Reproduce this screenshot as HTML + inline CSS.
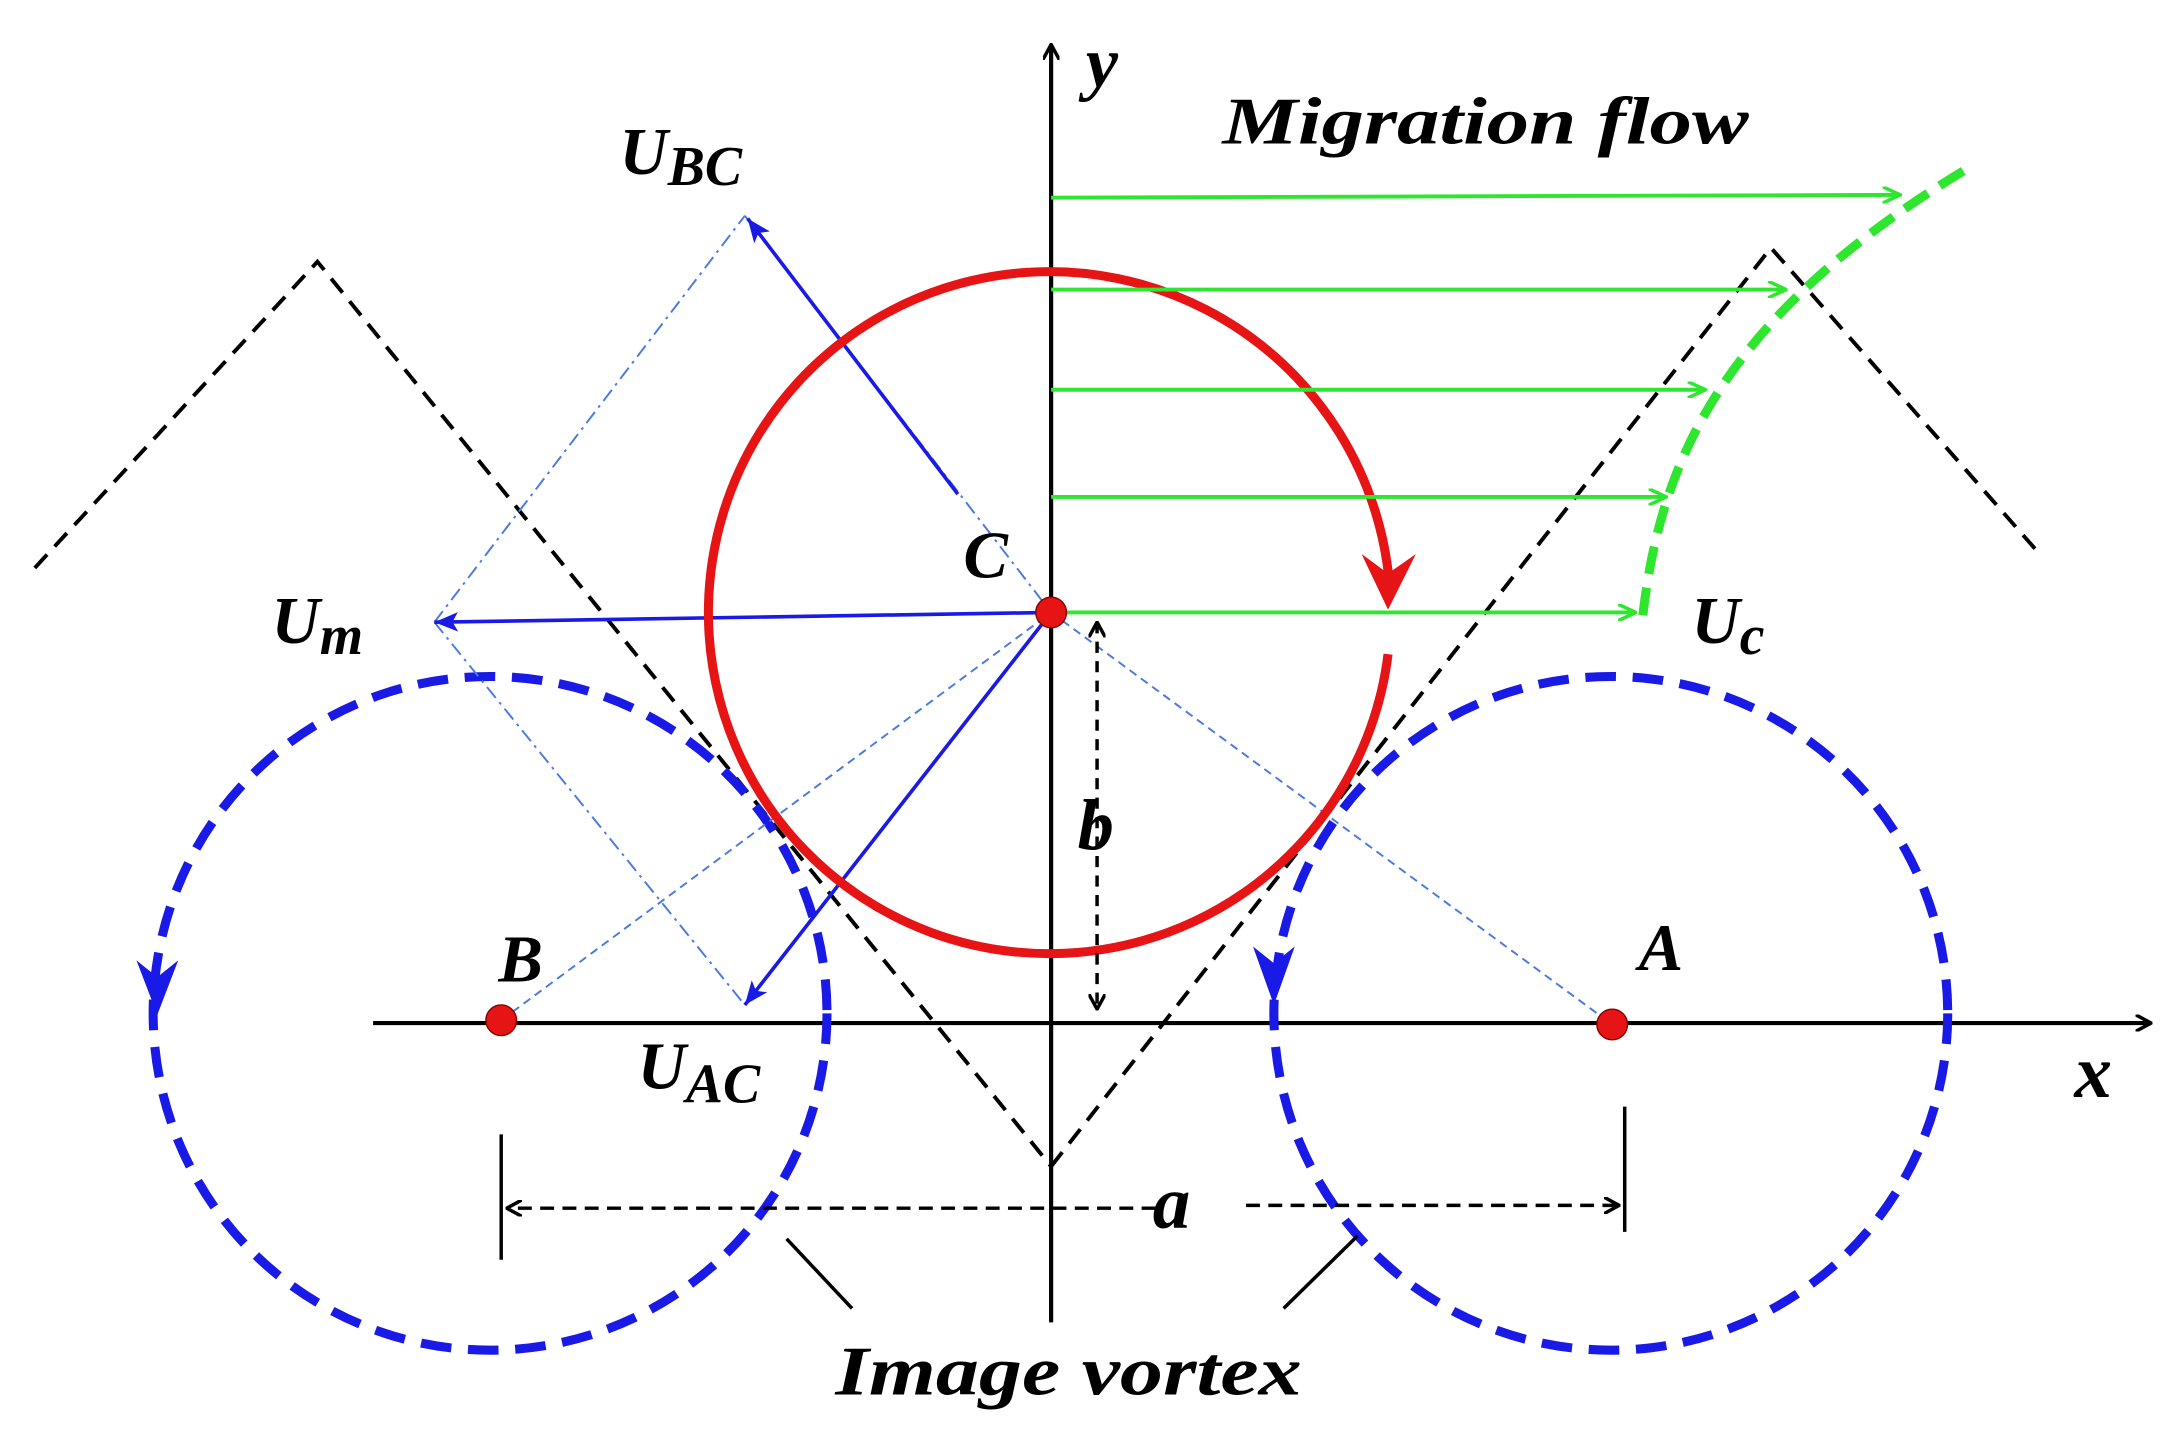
<!DOCTYPE html>
<html><head><meta charset="utf-8"><style>html,body{margin:0;padding:0;background:#fff}svg{display:block}
text{font-family:"Liberation Serif",serif;font-weight:bold;font-style:italic;fill:#000}</style></head>
<body>
<svg width="2183" height="1449" viewBox="0 0 1568 1041" preserveAspectRatio="none" xmlns="http://www.w3.org/2000/svg">
<defs>
<marker id="ak" markerWidth="12" markerHeight="12" refX="11" refY="6" orient="auto-start-reverse" markerUnits="userSpaceOnUse"><path d="M0,0 L11,6 L0,12" fill="none" stroke="#000" stroke-width="2.5"/></marker>
<marker id="ag" markerWidth="14" markerHeight="12" refX="13" refY="6" orient="auto" markerUnits="userSpaceOnUse"><path d="M0,0 L13,6 L0,12" fill="none" stroke="#2ee62e" stroke-width="2.5"/></marker>
<marker id="ab" markerWidth="18" markerHeight="14" refX="17" refY="7" orient="auto" markerUnits="userSpaceOnUse"><path d="M0,0 L17,7 L0,14 L4,7Z" fill="#1a1ae6"/></marker>
</defs>
<g stroke="#000" stroke-width="2.8" stroke-dasharray="13,8" fill="none">
<polyline points="25,408 228,188 755,838"/>
<polyline points="755,838 1272,178 1465,398"/>
</g>
<line x1="755" y1="950" x2="755" y2="32" stroke="#000" stroke-width="3" marker-end="url(#ak)"/>
<line x1="268" y1="735" x2="1545" y2="735" stroke="#000" stroke-width="3" marker-end="url(#ak)"/>
<g stroke="#1a1ae6" stroke-width="6.5" stroke-dasharray="22,12" fill="none">
<circle cx="352" cy="728" r="242"/>
<circle cx="1157" cy="728" r="242"/>
</g>
<path d="M98,690 L113,729 L128,690 L113,702Z" fill="#1a1ae6"/>
<path d="M900,680 L915,722 L930,680 L915,692Z" fill="#1a1ae6"/>
<g stroke="#4a7ae0" stroke-width="1.4" fill="none">
<line x1="360" y1="733" x2="755" y2="440" stroke-dasharray="6,4"/>
<line x1="755" y1="440" x2="1158" y2="736" stroke-dasharray="6,4"/>
<line x1="312" y1="447" x2="535" y2="155" stroke-dasharray="10,4,2,4"/>
<line x1="312" y1="447" x2="535" y2="722" stroke-dasharray="10,4,2,4"/>
<line x1="535" y1="155" x2="755" y2="440" stroke-dasharray="10,4,2,4"/>
</g>
<g stroke="#1a1ae6" stroke-width="2.6" fill="none">
<line x1="755" y1="440" x2="312" y2="447" marker-end="url(#ab)"/>
<line x1="688" y1="355" x2="537" y2="157" marker-end="url(#ab)"/>
<line x1="755" y1="440" x2="535" y2="722" marker-end="url(#ab)"/>
</g>
<path d="M997,470 A245,245 0 1 1 998,420" stroke="#e61414" stroke-width="6.5" fill="none"/>
<path d="M978,398 L997,438 L1017,398 L997,412Z" fill="#e61414"/>
<g stroke="#2ee62e" stroke-width="2.8" fill="none">
<line x1="755" y1="142" x2="1365" y2="140" marker-end="url(#ag)"/>
<line x1="755" y1="208" x2="1283" y2="208" marker-end="url(#ag)"/>
<line x1="755" y1="280" x2="1225" y2="280" marker-end="url(#ag)"/>
<line x1="755" y1="357" x2="1197" y2="357" marker-end="url(#ag)"/>
<line x1="755" y1="440" x2="1175" y2="440" marker-end="url(#ag)"/>
</g>
<path d="M1180,442 C1192,340 1230,230 1415,120" stroke="#2ee62e" stroke-width="6.5" stroke-dasharray="20,10" fill="none"/>
<g stroke="#000" stroke-width="2.5" fill="none">
<line x1="788" y1="447" x2="788" y2="725" stroke-dasharray="8,6" marker-start="url(#ak)" marker-end="url(#ak)"/>
<line x1="360" y1="815" x2="360" y2="905"/>
<line x1="1167" y1="795" x2="1167" y2="885"/>
<line x1="830" y1="868" x2="364" y2="868" stroke-dasharray="10,6" marker-end="url(#ak)"/>
<line x1="895" y1="866" x2="1163" y2="866" stroke-dasharray="10,6" marker-end="url(#ak)"/>
<line x1="565" y1="890" x2="612" y2="940"/>
<line x1="975" y1="888" x2="922" y2="940"/>
</g>
<g fill="#e61414" stroke="#800" stroke-width="1">
<circle cx="755" cy="440" r="11"/>
<circle cx="360" cy="733" r="11"/>
<circle cx="1158" cy="736" r="11"/>
</g>
<text x="780" y="62" font-size="52">y</text>
<text x="878" y="103" font-size="48" textLength="378" lengthAdjust="spacingAndGlyphs">Migration flow</text>
<text x="445" y="125" font-size="48">U<tspan font-size="40" dy="8">BC</tspan></text>
<text x="195" y="462" font-size="48">U<tspan font-size="40" dy="8">m</tspan></text>
<text x="692" y="415" font-size="48">C</text>
<text x="1215" y="462" font-size="48">U<tspan font-size="40" dy="8">c</tspan></text>
<text x="358" y="705" font-size="48">B</text>
<text x="1177" y="697" font-size="48">A</text>
<text x="458" y="782" font-size="48">U<tspan font-size="40" dy="10">AC</tspan></text>
<text x="774" y="610" font-size="52">b</text>
<text x="1490" y="788" font-size="54">x</text>
<text x="828" y="882" font-size="54">a</text>
<text x="600" y="1002" font-size="50" textLength="335" lengthAdjust="spacingAndGlyphs">Image vortex</text>
</svg>
</body></html>
